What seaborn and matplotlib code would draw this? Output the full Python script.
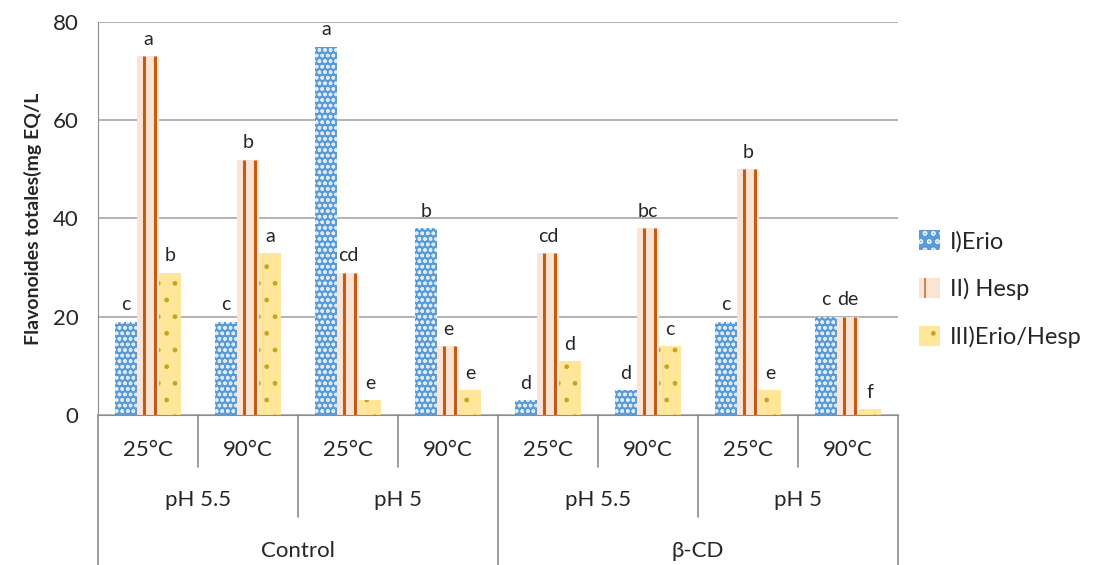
import numpy as np
import pandas as pd
import seaborn as sns
import matplotlib.pyplot as plt
from matplotlib.patches import Patch
from matplotlib.transforms import blended_transform_factory

# data
temps = ["25°C", "90°C", "25°C", "90°C", "25°C", "90°C", "25°C", "90°C"]
phs = ["pH 5.5", "pH 5", "pH 5.5", "pH 5"]
treatments = ["Control", "β-CD"]
series = ["I)Erio", "II) Hesp", "III)Erio/Hesp"]

erio = [19, 19, 75, 38, 3, 5, 19, 20]
hesp = [73, 52, 29, 14, 33, 38, 50, 20]
mix = [29, 33, 3, 5, 11, 14, 5, 1.2]

letters_erio = ["c", "c", "a", "b", "d", "d", "c", "c"]
letters_hesp = ["a", "b", "cd", "e", "cd", "bc", "b", "de"]
letters_mix = ["b", "a", "e", "e", "d", "c", "e", "f"]

conds = [f"{treatments[i // 4]} {phs[i // 2]} {temps[i]}" for i in range(8)]
rows = []
for s, vals in zip(series, [erio, hesp, mix]):
    for c, v in zip(conds, vals):
        rows.append({"cond": c, "serie": s, "valor": v})
df = pd.DataFrame(rows)

sns.set_style("white")
plt.rcParams['font.family'] = ['Lato', 'DejaVu Sans']
plt.rcParams['hatch.linewidth'] = 1.0

fig = plt.figure(figsize=(10.97, 5.65), dpi=100)
ax = fig.add_axes([98 / 1097, 150 / 565, 800 / 1097, 393 / 565])

face = ["#5B9BD5", "#FBE3D6", "#FFE699"]
hatchcol = ["#DDEBF7", "#C55A11", "#C9A227"]
hatches = ["ooo", "", "."]

sns.barplot(data=df, x="cond", y="valor", hue="serie", order=conds, hue_order=series,
            palette=face, width=0.66, gap=0, ax=ax, legend=False, saturation=1)

for k, cont in enumerate(ax.containers):
    for p in cont:
        p.set_facecolor(face[k])
        p.set_edgecolor(hatchcol[k])
        p.set_linewidth(0)
        p.set_hatch(hatches[k])

# two orange stripes inside every Hesp bar
for p in ax.containers[1]:
    x0, w, h = p.get_x(), p.get_width(), p.get_height()
    ax.vlines([x0 + 0.3 * w, x0 + 0.8 * w], 0, h, color="#C55A11", lw=2.2, zorder=p.get_zorder() + 0.1)

# letters above bars
for cont, labs in zip(ax.containers, [letters_erio, letters_hesp, letters_mix]):
    for p, lab in zip(cont, labs):
        ax.annotate(lab, (p.get_x() + p.get_width() / 2, p.get_height()),
                    xytext=(0, 6), textcoords="offset points",
                    ha="center", va="bottom", fontsize=14)

ax.set_ylim(0, 80)
ax.set_xlim(-0.5, 7.5)
ax.set_yticks([0, 20, 40, 60, 80])
ax.yaxis.grid(True, color="#A6A6A6", lw=1.2)
ax.set_axisbelow(True)
for s in ["top", "right"]:
    ax.spines[s].set_visible(False)
ax.spines["left"].set_color("#8C8C8C")
ax.spines["bottom"].set_color("#8C8C8C")
ax.tick_params(axis="y", direction="out", length=8, color="#8C8C8C", labelsize=16, pad=6)
ax.tick_params(axis="x", length=0, labelbottom=False)
ax.set_xlabel("")
ax.set_ylabel("Flavonoides totales(mg EQ/L", fontsize=14, fontweight="bold", labelpad=8)

# hierarchical category axis
tr = blended_transform_factory(ax.transData, ax.transAxes)
lc = "#8C8C8C"
for i in range(8):
    ax.text(i, -0.089, temps[i], transform=tr, ha="center", va="center", fontsize=16)
for j in range(4):
    ax.text(2 * j + 0.5, -0.216, phs[j], transform=tr, ha="center", va="center", fontsize=16)
for t in range(2):
    ax.text(4 * t + 1.5, -0.346, treatments[t], transform=tr, ha="center", va="center", fontsize=16)

for b in range(9):
    x = b - 0.5
    if b in (0, 4, 8):
        y0 = -0.382
    elif b % 2 == 0:
        y0 = -0.26
    else:
        y0 = -0.132
    ax.plot([x, x], [0, y0], transform=tr, color=lc, lw=1.2, clip_on=False)

# legend
handles = [Patch(facecolor=face[0], edgecolor=hatchcol[0], hatch="oo", lw=0),
           Patch(facecolor=face[1], edgecolor=hatchcol[1], hatch="|", lw=0),
           Patch(facecolor=face[2], edgecolor=hatchcol[2], hatch=".", lw=0)]
ax.legend(handles, series, loc="center left", bbox_to_anchor=(1.0, 0.32), frameon=False,
          fontsize=17, handlelength=0.9, handleheight=0.9, labelspacing=1.1, handletextpad=0.4)

fig.savefig("out.png", dpi=100)
